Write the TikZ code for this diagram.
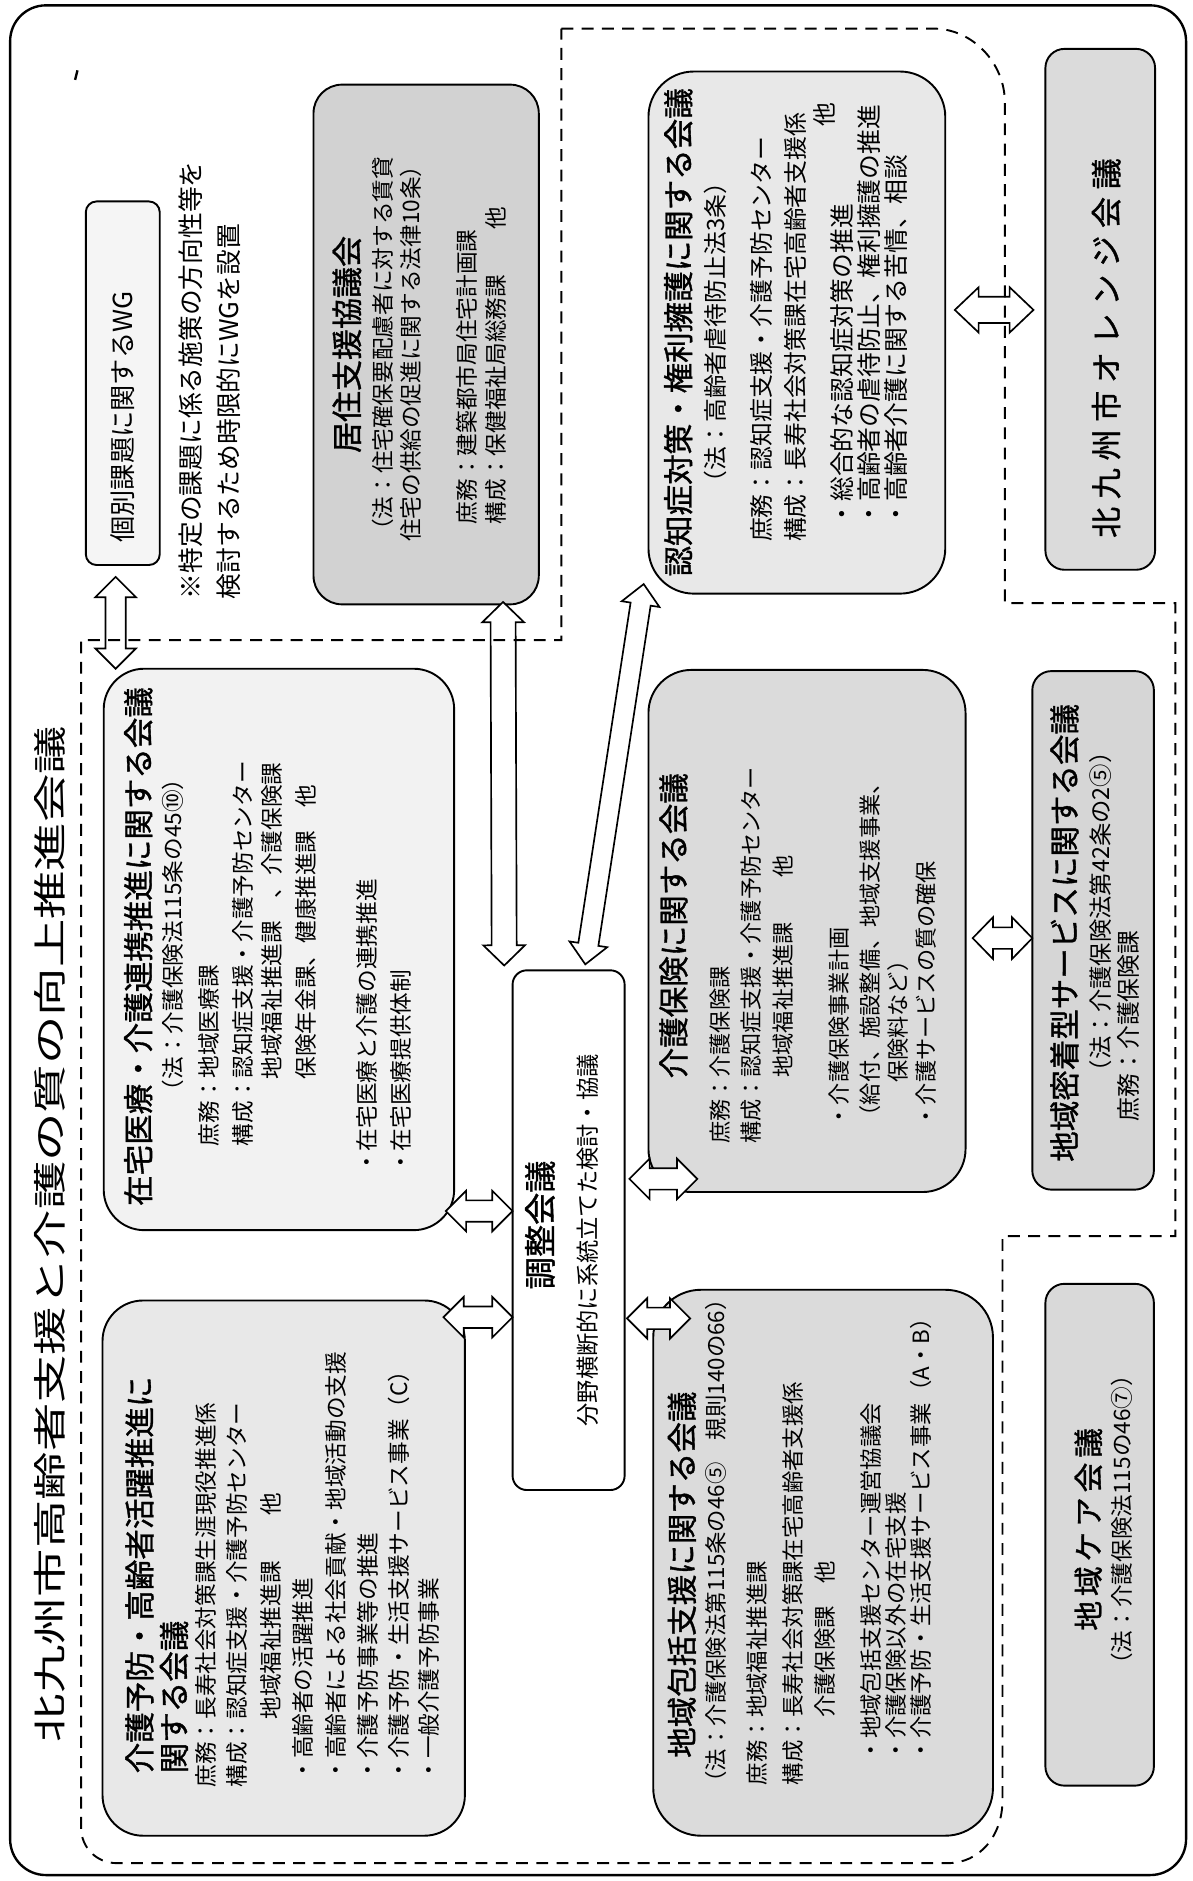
\documentclass[tikz,border=0pt]{standalone}
\usepackage{fontspec}
\setmainfont{Noto Sans CJK JP}
\newfontfamily\jp{Noto Sans CJK JP}
\newfontfamily\jpb[FakeBold=1.2]{Noto Sans CJK JP}
\newfontfamily\jpbw[FakeBold=1.2,LetterSpace=25]{Noto Sans CJK JP}
\newfontfamily\jpbv[FakeBold=1.2,LetterSpace=16]{Noto Sans CJK JP}
\newfontfamily\jpt[FakeStretch=1.45]{Noto Sans CJK JP}
\usetikzlibrary{calc,fit}
\newcommand\fsz[1]{\jp\fontsize{#1}{#1}\selectfont}
\newcommand\hollowarrow[5]{%
  \coordinate (ha) at ($#1!#5!#2$);
  \coordinate (hb) at ($#2!#5!#1$);
  \draw[arrowbox] #1 -- ($(ha)!#4!90:#2$) -- ($(ha)!#3!90:#2$) -- ($(hb)!#3!-90:#1$) -- ($(hb)!#4!-90:#1$) -- #2 -- ($(hb)!#4!90:#1$) -- ($(hb)!#3!90:#1$) -- ($(ha)!#3!-90:#2$) -- ($(ha)!#4!-90:#2$) -- cycle;}
\tikzset{
  rbox/.style={draw, line width=0.8pt, rounded corners=#1, inner sep=0pt, outer sep=0pt},
  ln/.style={rotate=90, anchor=west, inner sep=0pt, font=\fsz{9.5}},
  hd/.style={rotate=90, anchor=west, inner sep=0pt, font=\jpb\fontsize{12.8}{13}\selectfont},
  arrowbox/.style={draw, fill=white, line width=0.7pt, line join=miter},
  region/.style={draw, line width=0.8pt, dash pattern=on 5pt off 3.5pt}
}
\begin{document}
\begin{tikzpicture}[x=0.5pt,y=-0.5pt]
\useasboundingbox (0,0) rectangle (1000,1578);
\node[rbox=15pt, line width=1pt, fit={(8.5,4.5)(995,1573)}] (outer) {};
\draw[line width=1pt] (65,59) -- (63,67);

% boxes
\node[rbox=4.5pt, fill=gray!8, fit={(72,169)(134,474)}] (wg) {};
\node[rbox=12pt, fill=gray!35, fit={(263,71)(452,507)}] (kyoju) {};
\node[rbox=17pt, fill=gray!10, fit={(87,561)(381,1032)}] (zaitaku) {};
\node[rbox=17pt, fill=gray!18, fit={(86,1091)(390,1540)}] (yobo) {};
\node[rbox=19pt, fill=gray!18, fit={(544,60)(793,498)}] (ninchi) {};
\node[rbox=18pt, fill=gray!28, fit={(544,562)(810,1000)}] (hoken) {};
\node[rbox=20pt, fill=gray!28, fit={(548,1082)(833,1540)}] (hokatsu) {};
\node[rbox=6pt, fill=white, fit={(430,814)(524,1250)}] (chosei) {};
\node[rbox=8pt, fill=gray!28, fit={(877,41)(969,478)}] (orange) {};
\node[rbox=8pt, fill=gray!32, fit={(866,563)(968,998)}] (mitchaku) {};
\node[rbox=8pt, fill=gray!30, fit={(877,1077)(968,1498)}] (care) {};

% WG and note
\node[rotate=90, inner sep=0pt, font=\fsz{11}] (wgt) at (103,350) {個別課題に関するWG};
\node[ln, font=\fsz{10.8}] (note1) at (160,503) {※特定の課題に係る施策の方向性等を};
\node[ln, font=\fsz{10.8}] (note2) at (192,503) {検討するため時限的にWGを設置};

% kyoju
\node[rotate=90, inner sep=0pt, font=\jpb\fontsize{13}{13}\selectfont] (kt) at (291,289) {居住支援協議会};
\node[ln] (k1) at (321,455) {（法：住宅確保要配慮者に対する賃貸};
\node[ln] (k2) at (345,455) {住宅の供給の促進に関する法律10条）};
\node[ln] (k3) at (392,440) {庶務：建築都市局住宅計画課};
\node[ln] (k4) at (416,440) {構成：保健福祉局総務課　　他};

% zaitaku
\node[hd] (zt) at (116,1012) {在宅医療・介護連携推進に関する会議};
\node[ln] (z1) at (145,925) {（法：介護保険法115条の45⑩）};
\node[ln] (z2) at (175,962) {庶務：地域医療課};
\node[ln] (z3) at (204,962) {構成：認知症支援・介護予防センター};
\node[ln] (z4) at (228,906) {地域福祉推進課　、介護保険課};
\node[ln] (z5) at (257,906) {保険年金課、健康推進課　他};
\node[ln] (z6) at (308,985) {・在宅医療と介護の連携推進};
\node[ln] (z7) at (336,985) {・在宅医療提供体制};

% yobo
\node[hd] (yt1) at (117,1488) {介護予防・高齢者活躍推進に};
\node[hd] (yt2) at (146,1488) {関する会議};
\node[ln] (y1) at (173,1500) {庶務：長寿社会対策課生涯現役推進係};
\node[ln] (y2) at (199,1500) {構成：認知症支援・介護予防センター};
\node[ln] (y3) at (227,1500) {　　　地域福祉推進課　　他};
\node[ln] (y4) at (254,1495) {・高齢者の活躍推進};
\node[ln] (y5) at (282,1495) {・高齢者による社会貢献・地域活動の支援};
\node[ln] (y6) at (309,1495) {・介護予防事業等の推進};
\node[ln] (y7) at (335,1495) {・介護予防・生活支援サービス事業（C）};
\node[ln] (y8) at (360,1495) {・一般介護予防事業};

% ninchi
\node[hd] (nt) at (569,484) {認知症対策・権利擁護に関する会議};
\node[ln, font=\fsz{10}] (nn1) at (600,415) {（法：高齢者虐待防止法3条）};
\node[ln, font=\fsz{10}] (nn2) at (639,455) {庶務：認知症支援・介護予防センター};
\node[ln, font=\fsz{10}] (nn3) at (667,455) {構成：長寿社会対策課在宅高齢者支援係};
\node[ln, font=\fsz{10}, anchor=east] (nn4) at (692,86) {他};
\node[ln, font=\fsz{10.4}] (nn5) at (706,442) {・総合的な認知症対策の推進};
\node[ln, font=\fsz{10.4}] (nn6) at (729,442) {・高齢者の虐待防止、権利擁護の推進};
\node[ln, font=\fsz{10.4}] (nn7) at (752,442) {・高齢者介護に関する苦情、相談};

% hoken
\node[hd] (ht) at (565,905) {介護保険に関する会議};
\node[ln, font=\fsz{9.3}] (h1) at (604,960) {庶務：介護保険課};
\node[ln, font=\fsz{9.3}] (h2) at (630,960) {構成：認知症支援・介護予防センター};
\node[ln, font=\fsz{9.3}] (h3) at (657,960) {　　　地域福祉推進課　　他};
\node[ln, font=\fsz{9.3}] (h4) at (704,946) {・介護保険事業計画};
\node[ln, font=\fsz{9.3}] (h5) at (730,946) {（給付、施設整備、地域支援事業、};
\node[ln, font=\fsz{9.3}] (h6) at (753,946) {　　保険料など）};
\node[ln, font=\fsz{9.3}] (h7) at (777,946) {・介護サービスの質の確保};

% hokatsu
\node[hd] (pt) at (572,1475) {地域包括支援に関する会議};
\node[ln, font=\fsz{9.4}] (p1) at (601,1505) {（法：介護保険法第115条の46⑤　規則140の66）};
\node[ln, font=\fsz{9.4}] (p2) at (635,1498) {庶務：地域福祉推進課};
\node[ln, font=\fsz{9.4}] (p3) at (665,1498) {構成：長寿社会対策課在宅高齢者支援係};
\node[ln, font=\fsz{9.4}] (p4) at (692,1498) {　　　介護保険課　他};
\node[ln, font=\fsz{9.4}] (p5) at (731,1478) {・地域包括支援センター運営協議会};
\node[ln, font=\fsz{9.4}] (p6) at (752,1478) {・介護保険以外の在宅支援};
\node[ln, font=\fsz{9.4}] (p7) at (773,1478) {・介護予防・生活支援サービス事業（A・B）};

% chosei
\node[ln, font=\jpb\fontsize{13.5}{14}\selectfont] (ct) at (453,1082) {調整会議};
\node[ln, font=\fsz{9.75}] (c1) at (493,1197) {分野横断的に系統立てた検討・協議};

% mitchaku
\node[hd] (mt) at (893,975) {地域密着型サービスに関する会議};
\node[ln, font=\fsz{9.8}] (m1) at (923,909) {（法：介護保険法第42条の2⑤）};
\node[ln, font=\fsz{10}] (m2) at (947,941) {庶務：介護保険課};

% orange, care
\node[rotate=90, inner sep=0pt, font=\jpbw\fontsize{13}{13}\selectfont] (ot) at (928,292) {北九州市オレンジ会議};
\node[rotate=90, inner sep=0pt, font=\jpbv\fontsize{12.5}{13}\selectfont] (cat) at (913,1283) {地域ケア会議};
\node[rotate=90, inner sep=0pt, font=\fsz{9.5}] (ca1) at (941,1275) {（法：介護保険法115の46⑦）};

% arrows
\coordinate (a1) at ($(97,0 |- wg.south)+(0,10)$);
\coordinate (b1) at (97,0 |- zaitaku.north);
\hollowarrow{(a1)}{(b1)}{4.25pt}{8.5pt}{8.5pt}
\coordinate (a2) at ($(422,0 |- kyoju.south)+(0,-2)$);
\coordinate (b2) at ($(chosei.north west)+(-7,-4)$);
\hollowarrow{(a2)}{(b2)}{5.25pt}{8.75pt}{8.5pt}
\coordinate (a3) at ($(ninchi.south west)+(-4,-8)$);
\coordinate (b3) at ($(491,0 |- chosei.north)+(0,-5)$);
\hollowarrow{(a3)}{(b3)}{4.25pt}{8pt}{8.5pt}
\coordinate (a4) at ($(zaitaku.east |- 0,1016)+(-7,0)$);
\coordinate (b4) at (chosei.west |- 0,1016);
\hollowarrow{(a4)}{(b4)}{4.5pt}{8.5pt}{8.5pt}
\coordinate (a5) at ($(yobo.east |- 0,1105)+(-18,0)$);
\coordinate (b5) at (chosei.west |- 0,1105);
\hollowarrow{(a5)}{(b5)}{4.5pt}{8.5pt}{8.5pt}
\coordinate (a6) at ($(chosei.east |- 0,989)+(4,0)$);
\coordinate (b6) at ($(hoken.west |- 0,989)+(41,0)$);
\hollowarrow{(a6)}{(b6)}{4.5pt}{8.5pt}{8.5pt}
\coordinate (a7) at ($(chosei.east |- 0,1106)+(2,0)$);
\coordinate (b7) at ($(hokatsu.west |- 0,1106)+(31,0)$);
\hollowarrow{(a7)}{(b7)}{4.5pt}{8.5pt}{8.5pt}
\coordinate (a8) at ($(ninchi.east |- 0,260)+(8,0)$);
\coordinate (b8) at ($(orange.west |- 0,260)+(-10,0)$);
\hollowarrow{(a8)}{(b8)}{5.5pt}{9.5pt}{10pt}
\coordinate (a9) at ($(hoken.east |- 0,787)+(6,0)$);
\coordinate (b9) at (mitchaku.west |- 0,787);
\hollowarrow{(a9)}{(b9)}{4.5pt}{8.75pt}{8.5pt}

% dashed region
\draw[region] (471,24) -- (783,24) .. controls (816,24) and (843,53) .. (843,86) -- (843,506) -- (986,506) -- (986,1037) -- (841,1037) -- (841,1510) .. controls (841,1540) and (822,1563) .. (795,1563) -- (98,1563) .. controls (81,1563) and (68,1550) .. (68,1533) -- (68,537) -- (471,537) -- cycle;

% title
\node[rotate=90, anchor=west, inner sep=0pt, font=\jpt\fontsize{14}{14}\selectfont] (title) at (42,1462) {北九州市高齢者支援と介護の質の向上推進会議};
\end{tikzpicture}
\end{document}
